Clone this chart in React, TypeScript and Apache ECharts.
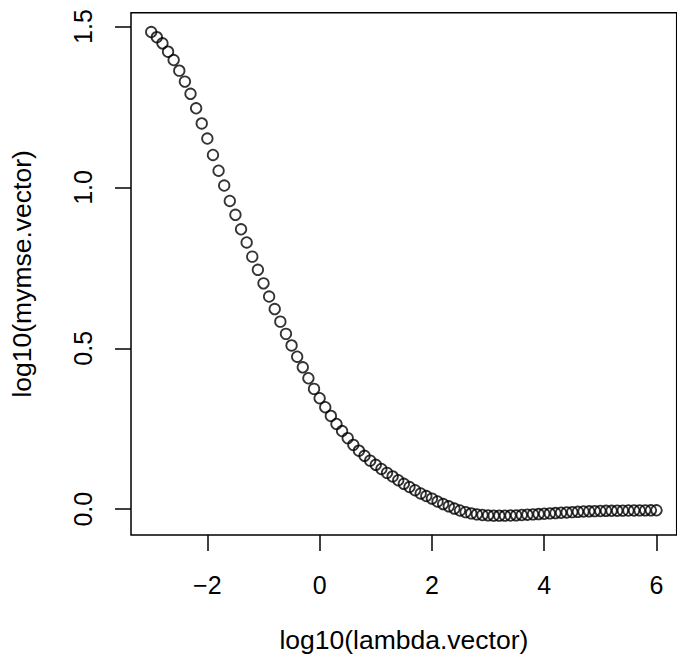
import React, { useEffect, useRef } from "react";
import * as echarts from "echarts";

const xValues: number[] = [
  -3.0, -2.9, -2.8, -2.7, -2.6, -2.5, -2.4, -2.3, -2.2, -2.1,
  -2.0, -1.9, -1.8, -1.7, -1.6, -1.5, -1.4, -1.3, -1.2, -1.1,
  -1.0, -0.9, -0.8, -0.7, -0.6, -0.5, -0.4, -0.3, -0.2, -0.1,
  0.0, 0.1, 0.2, 0.3, 0.4, 0.5, 0.6, 0.7, 0.8, 0.9,
  1.0, 1.1, 1.2, 1.3, 1.4, 1.5, 1.6, 1.7, 1.8, 1.9,
  2.0, 2.1, 2.2, 2.3, 2.4, 2.5, 2.6, 2.7, 2.8, 2.9,
  3.0, 3.1, 3.2, 3.3, 3.4, 3.5, 3.6, 3.7, 3.8, 3.9,
  4.0, 4.1, 4.2, 4.3, 4.4, 4.5, 4.6, 4.7, 4.8, 4.9,
  5.0, 5.1, 5.2, 5.3, 5.4, 5.5, 5.6, 5.7, 5.8, 5.9,
  6.0,
];

const yValues: number[] = [
  1.483, 1.467, 1.448, 1.422, 1.396, 1.363, 1.329, 1.291, 1.246, 1.199,
  1.152, 1.101, 1.052, 1.006, 0.958, 0.915, 0.87, 0.829, 0.785, 0.744,
  0.702, 0.661, 0.622, 0.583, 0.545, 0.509, 0.474, 0.441, 0.407, 0.374,
  0.345, 0.317, 0.29, 0.265, 0.243, 0.221, 0.2, 0.182, 0.166, 0.151,
  0.138, 0.125, 0.113, 0.102, 0.09, 0.079, 0.069, 0.059, 0.049, 0.041,
  0.033, 0.024, 0.016, 0.009, 0.002, -0.004, -0.009, -0.013, -0.016, -0.018,
  -0.019, -0.02, -0.02, -0.02, -0.0195, -0.019, -0.018, -0.017, -0.016, -0.015,
  -0.014, -0.013, -0.012, -0.011, -0.01, -0.009, -0.008, -0.007, -0.0065, -0.006,
  -0.0055, -0.005, -0.0048, -0.0045, -0.0043, -0.004, -0.0038, -0.0036, -0.0035, -0.0034,
  -0.0033,
];

const xTicks: number[] = [-2, 0, 2, 4, 6];
const yTicks: number[] = [0, 0.5, 1.0, 1.5];

const xTitle = "log10(lambda.vector)";
const yTitle = "log10(mymse.vector)";

const FONT = "'Liberation Sans', Arial, Helvetica, sans-serif";
const FS_TICK = 25;
const FS_TITLE = 26.5;

export default function App() {
  const ref = useRef<HTMLDivElement>(null);

  useEffect(() => {
    if (!ref.current) return;
    const chart = echarts.init(ref.current, undefined, { renderer: "svg" });
    const data = xValues.map((x, i) => [x, yValues[i]]);
    const xMin = -3.36;
    const xMax = 6.36;
    const yMin = -0.0801;
    const yMax = 1.5431;
    chart.setOption({
      animation: false,
      backgroundColor: "#ffffff",
      grid: {
        left: 130.7,
        right: 0.3,
        top: 12.7,
        bottom: 133,
        show: true,
        borderColor: "#000",
        borderWidth: 1.5,
        backgroundColor: "transparent",
      },
      xAxis: {
        type: "value",
        min: xMin,
        max: xMax,
        name: xTitle,
        nameLocation: "middle",
        nameGap: 91,
        nameTextStyle: { color: "#000", fontSize: FS_TITLE, fontFamily: FONT },
        axisLine: { show: false, onZero: false },
        splitLine: { show: false },
        axisTick: {
          show: true,
          length: 16,
          lineStyle: { color: "#000", width: 1.5 },
          customValues: xTicks,
        },
        axisLabel: {
          customValues: xTicks,
          margin: 37,
          color: "#000",
          fontSize: FS_TICK,
          fontFamily: FONT,
          formatter: (v: number) => (v < 0 ? "\u2212" + Math.abs(v) : String(v)),
        },
      },
      yAxis: {
        type: "value",
        min: yMin,
        max: yMax,
        name: yTitle,
        nameLocation: "middle",
        nameRotate: 90,
        nameGap: 96,
        nameTextStyle: { color: "#000", fontSize: FS_TITLE, fontFamily: FONT },
        axisLine: { show: false, onZero: false },
        splitLine: { show: false },
        axisTick: {
          show: true,
          length: 16,
          lineStyle: { color: "#000", width: 1.5 },
          customValues: yTicks,
        },
        axisLabel: {
          customValues: yTicks,
          rotate: 90,
          margin: 36,
          color: "#000",
          fontSize: FS_TICK,
          fontFamily: FONT,
          formatter: (v: number) => v.toFixed(1),
        },
      },
      series: [
        {
          type: "scatter",
          data,
          symbol: "circle",
          symbolSize: 10.5,
          itemStyle: {
            color: "rgba(255,255,255,0)",
            borderColor: "#000",
            borderWidth: 1.8,
          },
        },
      ],
    });
    return () => chart.dispose();
  }, []);

  return (
    <div
      ref={ref}
      style={{ position: "absolute", left: 0, top: 0, width: 677, height: 668, background: "#fff" }}
    />
  );
}
